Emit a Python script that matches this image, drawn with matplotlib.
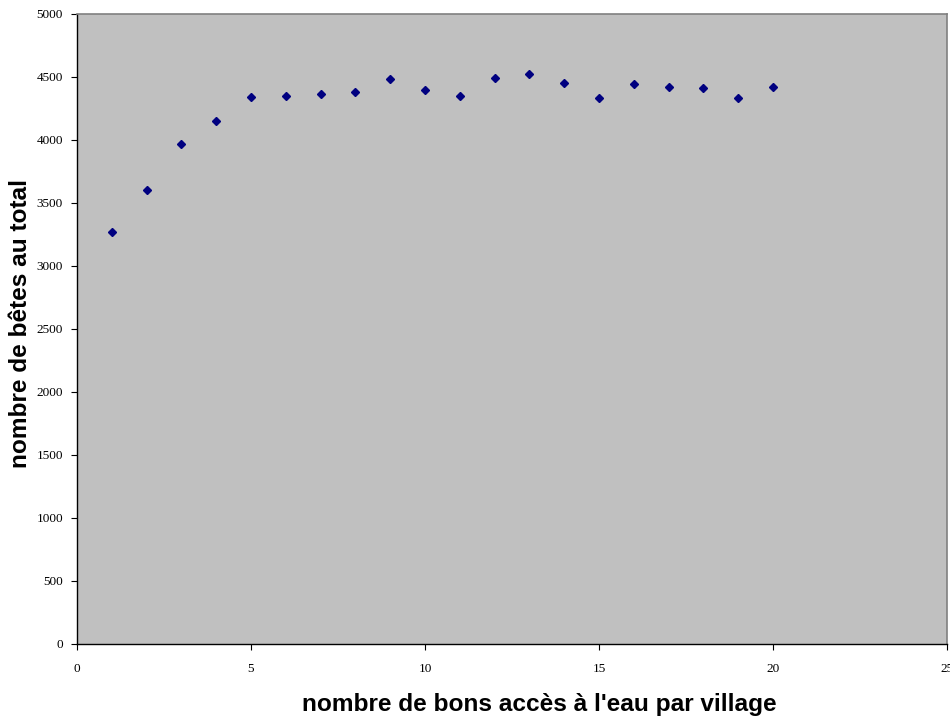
import matplotlib
matplotlib.use("Agg")
import matplotlib.pyplot as plt

acces = [1, 2, 3, 4, 5, 6, 7, 8, 9, 10, 11, 12, 13, 14, 15, 16, 17, 18, 19, 20]
betes = [3267, 3603, 3966, 4151, 4339, 4352, 4362, 4378, 4484, 4394,
         4346, 4495, 4524, 4452, 4331, 4444, 4421, 4410, 4331, 4421]
xticks = [0, 5, 10, 15, 20, 25]
yticks = [0, 500, 1000, 1500, 2000, 2500, 3000, 3500, 4000, 4500, 5000]

fig = plt.figure(figsize=(9.5, 7.2), dpi=100)
ax = fig.add_axes([0.081, 0.1056, 0.916, 0.875])
ax.set_facecolor("#c0c0c0")
ax.plot(acces, betes, linestyle="none", marker="D", markersize=4,
        color="#000080", markeredgecolor="#000080")
ax.set_xlim(0, 25)
ax.set_ylim(0, 5000)
ax.set_xticks(xticks)
ax.set_yticks(yticks)
for lab in ax.get_xticklabels() + ax.get_yticklabels():
    lab.set_fontfamily("Liberation Serif")
    lab.set_fontsize(9.5)
ax.tick_params(direction="out", length=4, width=0.8, colors="#000000", pad=6)
ax.tick_params(axis="x", pad=10)
for s in ["top", "right"]:
    ax.spines[s].set_color("#808080")
    ax.spines[s].set_linewidth(1.2)
for s in ["left", "bottom"]:
    ax.spines[s].set_color("#000000")
    ax.spines[s].set_linewidth(1.0)
fig.text(539.5 / 950, 1 - 704 / 720, "nombre de bons accès à l'eau par village",
         fontfamily="Liberation Sans", fontweight="bold", fontsize=17.6,
         ha="center", va="center")
fig.text(21 / 950, 1 - 323.5 / 720, "nombre de bêtes au total",
         fontfamily="Liberation Sans", fontweight="bold", fontsize=17.6,
         ha="center", va="center", rotation=90)
fig.savefig("out.png", dpi=100, facecolor="white")
